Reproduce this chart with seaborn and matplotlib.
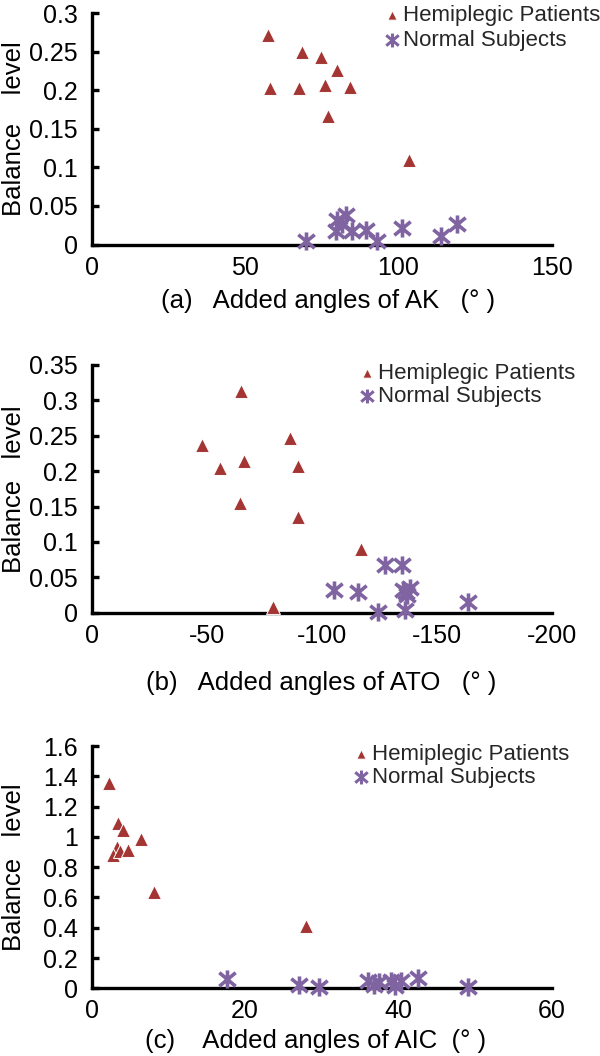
import numpy as np
import pandas as pd
import matplotlib
matplotlib.use("Agg")
import matplotlib.pyplot as plt
from matplotlib.path import Path
import seaborn as sns

# ---------------- data ----------------
group_names = ["Hemiplegic Patients", "Normal Subjects"]

# (a) Added angles of AK
ak_hemi_x = [57.5, 58, 68.7, 67.6, 74.7, 75.9, 80.1, 84.2, 77.1, 103.5]
ak_hemi_y = [0.272, 0.203, 0.250, 0.203, 0.243, 0.207, 0.227, 0.204, 0.167, 0.109]
ak_norm_x = [70, 79.5, 80, 81.5, 83, 85, 89.5, 93, 101, 114, 119]
ak_norm_y = [0.005, 0.017, 0.032, 0.026, 0.038, 0.017, 0.019, 0.004, 0.021, 0.011, 0.027]

# (b) Added angles of ATO
ato_hemi_x = [-47.8, -56, -65.1, -66.4, -64.3, -86.2, -89.5, -89.5, -117.1, -78.9]
ato_hemi_y = [0.237, 0.204, 0.313, 0.214, 0.155, 0.247, 0.2075, 0.135, 0.0896, 0.0085]
ato_norm_x = [-105.3, -115.8, -124.4, -127.6, -134.7, -135.5, -138.4, -137, -136.2, -136.5, -163.6]
ato_norm_y = [0.032, 0.0297, 0.0014, 0.0674, 0.0674, 0.032, 0.0345, 0.025, 0.004, 0.029, 0.0156]

# (c) Added angles of AIC
aic_hemi_x = [2.3, 3.5, 4.15, 6.44, 3.3, 2.86, 3.73, 4.8, 8.1, 28.0]
aic_hemi_y = [1.355, 1.089, 1.045, 0.983, 0.935, 0.88, 0.906, 0.913, 0.638, 0.414]
aic_norm_x = [17.6, 27.1, 29.6, 36.0, 36.8, 37.5, 39.0, 39.6, 40.3, 42.6, 49.0]
aic_norm_y = [0.059, 0.022, 0.011, 0.05, 0.02, 0.04, 0.045, 0.015, 0.05, 0.066, 0.007]

panel_xlabels = ["(a)   Added angles of AK   (\u00b0 )",
                 "(b)   Added angles of ATO   (\u00b0 )",
                 "(c)    Added angles of AIC  (\u00b0 )"]
panel_ylabels = ["Balance    level", "Balance   level", "Balance   level"]

x_ticks_a = [0, 50, 100, 150]
y_ticks_a = [0, 0.05, 0.1, 0.15, 0.2, 0.25, 0.3]
x_ticks_b = [0, -50, -100, -150, -200]
y_ticks_b = [0, 0.05, 0.1, 0.15, 0.2, 0.25, 0.3, 0.35]
x_ticks_c = [0, 20, 40, 60]
y_ticks_c = [0, 0.2, 0.4, 0.6, 0.8, 1, 1.2, 1.4, 1.6]

# ---------------- style ----------------
sns.set_theme(style="white")
plt.rcParams["font.family"] = ["Liberation Sans", "DejaVu Sans"]
plt.rcParams["axes.unicode_minus"] = False

RED = "#A33532"
PURPLE = "#8064A2"
TICK_FS = 18
LEG_FS = 16
LAB_FS = 18.5

star = Path(
    [(0, -1), (0, 1), (-0.9, -0.75), (0.9, 0.75), (-0.9, 0.75), (0.9, -0.75)],
    [Path.MOVETO, Path.LINETO, Path.MOVETO, Path.LINETO, Path.MOVETO, Path.LINETO],
)

W, H = 600, 1056
fig = plt.figure(figsize=(W / 100, H / 100), dpi=100)

def fx(px):
    return px / W

def fy(py):
    return 1 - py / H

L, R = 91.5, 552
panels = [
    dict(top=13.3, bottom=244.5, hx=ak_hemi_x, hy=ak_hemi_y, nx=ak_norm_x, ny=ak_norm_y,
         xlim=(0, 150), ylim=(0, 0.3), xt=x_ticks_a, yt=y_ticks_a, xlab=(328, 301),
         leg=(385.9, 4.6, 0.21)),
    dict(top=365.0, bottom=612.7, hx=ato_hemi_x, hy=ato_hemi_y, nx=ato_norm_x, ny=ato_norm_y,
         xlim=(0, -200), ylim=(0, 0.35), xt=x_ticks_b, yt=y_ticks_b, xlab=(321, 683),
         leg=(360.9, 362.6, 0.1)),
    dict(top=746.0, bottom=988.3, hx=aic_hemi_x, hy=aic_hemi_y, nx=aic_norm_x, ny=aic_norm_y,
         xlim=(0, 60), ylim=(0, 1.6), xt=x_ticks_c, yt=y_ticks_c, xlab=(316, 1041),
         leg=(354.4, 743.6, 0.09)),
]

for i, p in enumerate(panels):
    ax = fig.add_axes([fx(L), fy(p["bottom"]), fx(R) - fx(L), (p["bottom"] - p["top"]) / H])
    ax.set_facecolor("white")
    df_h = pd.DataFrame({"x": p["hx"], "y": p["hy"], "group": group_names[0]})
    df_n = pd.DataFrame({"x": p["nx"], "y": p["ny"], "group": group_names[1]})

    sns.scatterplot(data=df_h, x="x", y="y", marker="^", s=100, color=RED,
                    edgecolor="white", linewidth=0.7, label=group_names[0],
                    ax=ax, zorder=3, clip_on=False)
    sns.scatterplot(data=df_n, x="x", y="y", marker=star, s=170, color=PURPLE,
                    edgecolor=PURPLE, linewidth=2.6, label=group_names[1],
                    ax=ax, zorder=3, clip_on=False)

    ax.set_xlim(*p["xlim"])
    ax.set_ylim(*p["ylim"])
    ax.set_xticks(p["xt"])
    ax.set_xticklabels([f"{v:g}" for v in p["xt"]])
    ax.set_yticks(p["yt"])
    ax.set_yticklabels([f"{v:g}" for v in p["yt"]])

    for side in ["top", "right"]:
        ax.spines[side].set_visible(False)
    for side in ["left", "bottom"]:
        ax.spines[side].set_color("black")
        ax.spines[side].set_linewidth(2.4)
        ax.spines[side].set_zorder(2)

    ax.tick_params(axis="x", length=0, pad=8, labelsize=TICK_FS, colors="black")
    ax.tick_params(axis="y", direction="in", length=5, width=2.4, pad=10,
                   labelsize=TICK_FS, colors="black", left=True)
    ax.grid(False)

    ax.set_ylabel(panel_ylabels[i], fontsize=LAB_FS, color="black", va="center")
    ax.yaxis.set_label_coords((14.5 - L) / (R - L), 0.5)
    ax.set_xlabel(panel_xlabels[i], fontsize=LAB_FS, color="black", va="center")
    lxp, lyp = p["xlab"]
    ax.xaxis.set_label_coords((lxp - L) / (R - L), -(lyp - p["bottom"]) / (p["bottom"] - p["top"]))

    lx, ly, lsp = p["leg"]
    leg = ax.legend(loc="upper left", bbox_to_anchor=(fx(lx), fy(ly)),
                    bbox_transform=fig.transFigure, frameon=False, fontsize=LEG_FS,
                    handlelength=0.55, handletextpad=0.22, borderpad=0,
                    borderaxespad=0, labelspacing=lsp)
    hs = leg.legend_handles
    hs[0].set_sizes([45])
    hs[1].set_sizes([100])
    hs[1].set_linewidth(2.2)

fig.savefig("out.png", dpi=100, facecolor="white")
